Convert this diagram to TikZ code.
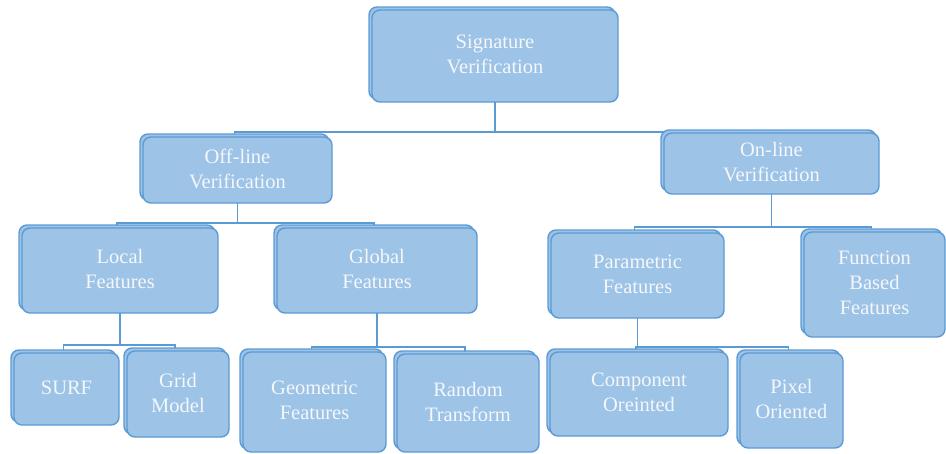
\documentclass[tikz,border=0pt]{standalone}
\usepackage{fontspec}
\setmainfont{Liberation Serif}
\usetikzlibrary{backgrounds}
\definecolor{boxfill}{RGB}{157,195,230}
\definecolor{boxline}{RGB}{91,155,213}
\definecolor{boxtext}{RGB}{244,247,252}
\tikzset{
  box/.style={draw=boxline, fill=boxfill, line width=1.4pt, rounded corners=8pt,
    inner sep=0pt, outer sep=0pt, align=center, text=boxtext,
    font=\fontsize{20.5}{25}\selectfont},
  ghostbox/.style={draw=boxline, fill=boxfill, line width=1.4pt, rounded corners=8pt,
    inner sep=0pt, outer sep=0pt},
  conn/.style={draw=boxline, line width=1.6pt}
}
% \bx{name}{x1}{y1}{x2}{y2}{text}
\newcommand{\bx}[6]{%
  \pgfmathsetmacro{\bw}{#4-#2}%
  \pgfmathsetmacro{\bh}{#5-#3}%
  \pgfmathsetmacro{\cx}{(#2+#4)/2}%
  \pgfmathsetmacro{\cy}{(#3+#5)/2}%
  \node[ghostbox, minimum width=\bw pt, minimum height=\bh pt] (#1g) at (\cx-3,\cy-3) {};
  \node[box, minimum width=\bw pt, minimum height=\bh pt] (#1) at (\cx,\cy) {};
  \node[box, draw=none, fill=none] (#1t) at (\cx,\cy-1.5) {#6};
}
\begin{document}
\begin{tikzpicture}[x=1pt,y=-1pt]
\useasboundingbox (0,0) rectangle (946,453);
\bx{sig}{372}{10}{618}{102}{Signature\\Verification}
\bx{off}{143}{137}{332}{203}{Off-line\\Verification}
\bx{on}{664}{133}{879}{194}{On-line\\Verification}
\bx{loc}{22}{228}{218}{313}{Local\\Features}
\bx{glo}{277}{228}{477}{313}{Global\\Features}
\bx{par}{551}{233}{724}{318}{Parametric\\Features}
\bx{fun}{804}{232}{945}{337}{Function\\Based\\Features}
\bx{surf}{14}{353}{119}{425}{SURF}
\bx{grid}{127}{351}{229}{437}{Grid\\Model}
\bx{geo}{243}{352}{386}{452}{Geometric\\Features}
\bx{ran}{397}{354}{539}{452}{Random\\Transform}
\bx{com}{550}{352}{728}{436}{Component\\Oreinted}
\bx{pix}{740}{353}{843}{448}{Pixel\\Oriented}
\begin{scope}[on background layer]
\draw[conn] (sig.south) -- ++(0,30) -| (offg.north);
\draw[conn] (sig.south) -- ++(0,30) -| (ong.north);
\draw[conn] (off.south) -- ++(0,20) -| (locg.north);
\draw[conn] (off.south) -- ++(0,20) -| (glog.north);
\draw[conn] (on.south) -- ++(0,33) -| (parg.north);
\draw[conn] (on.south) -- ++(0,33) -| (fung.north);
\draw[conn] (loc.south) -- ++(0,32) -| (surfg.north);
\draw[conn] (loc.south) -- ++(0,32) -| (gridg.north);
\draw[conn] (glo.south) -- ++(0,34) -| (geog.north);
\draw[conn] (glo.south) -- ++(0,34) -| (rang.north);
\draw[conn] (par.south) -- ++(0,29) -| (comg.north);
\draw[conn] (par.south) -- ++(0,29) -| (pixg.north);
\end{scope}
\end{tikzpicture}
\end{document}
